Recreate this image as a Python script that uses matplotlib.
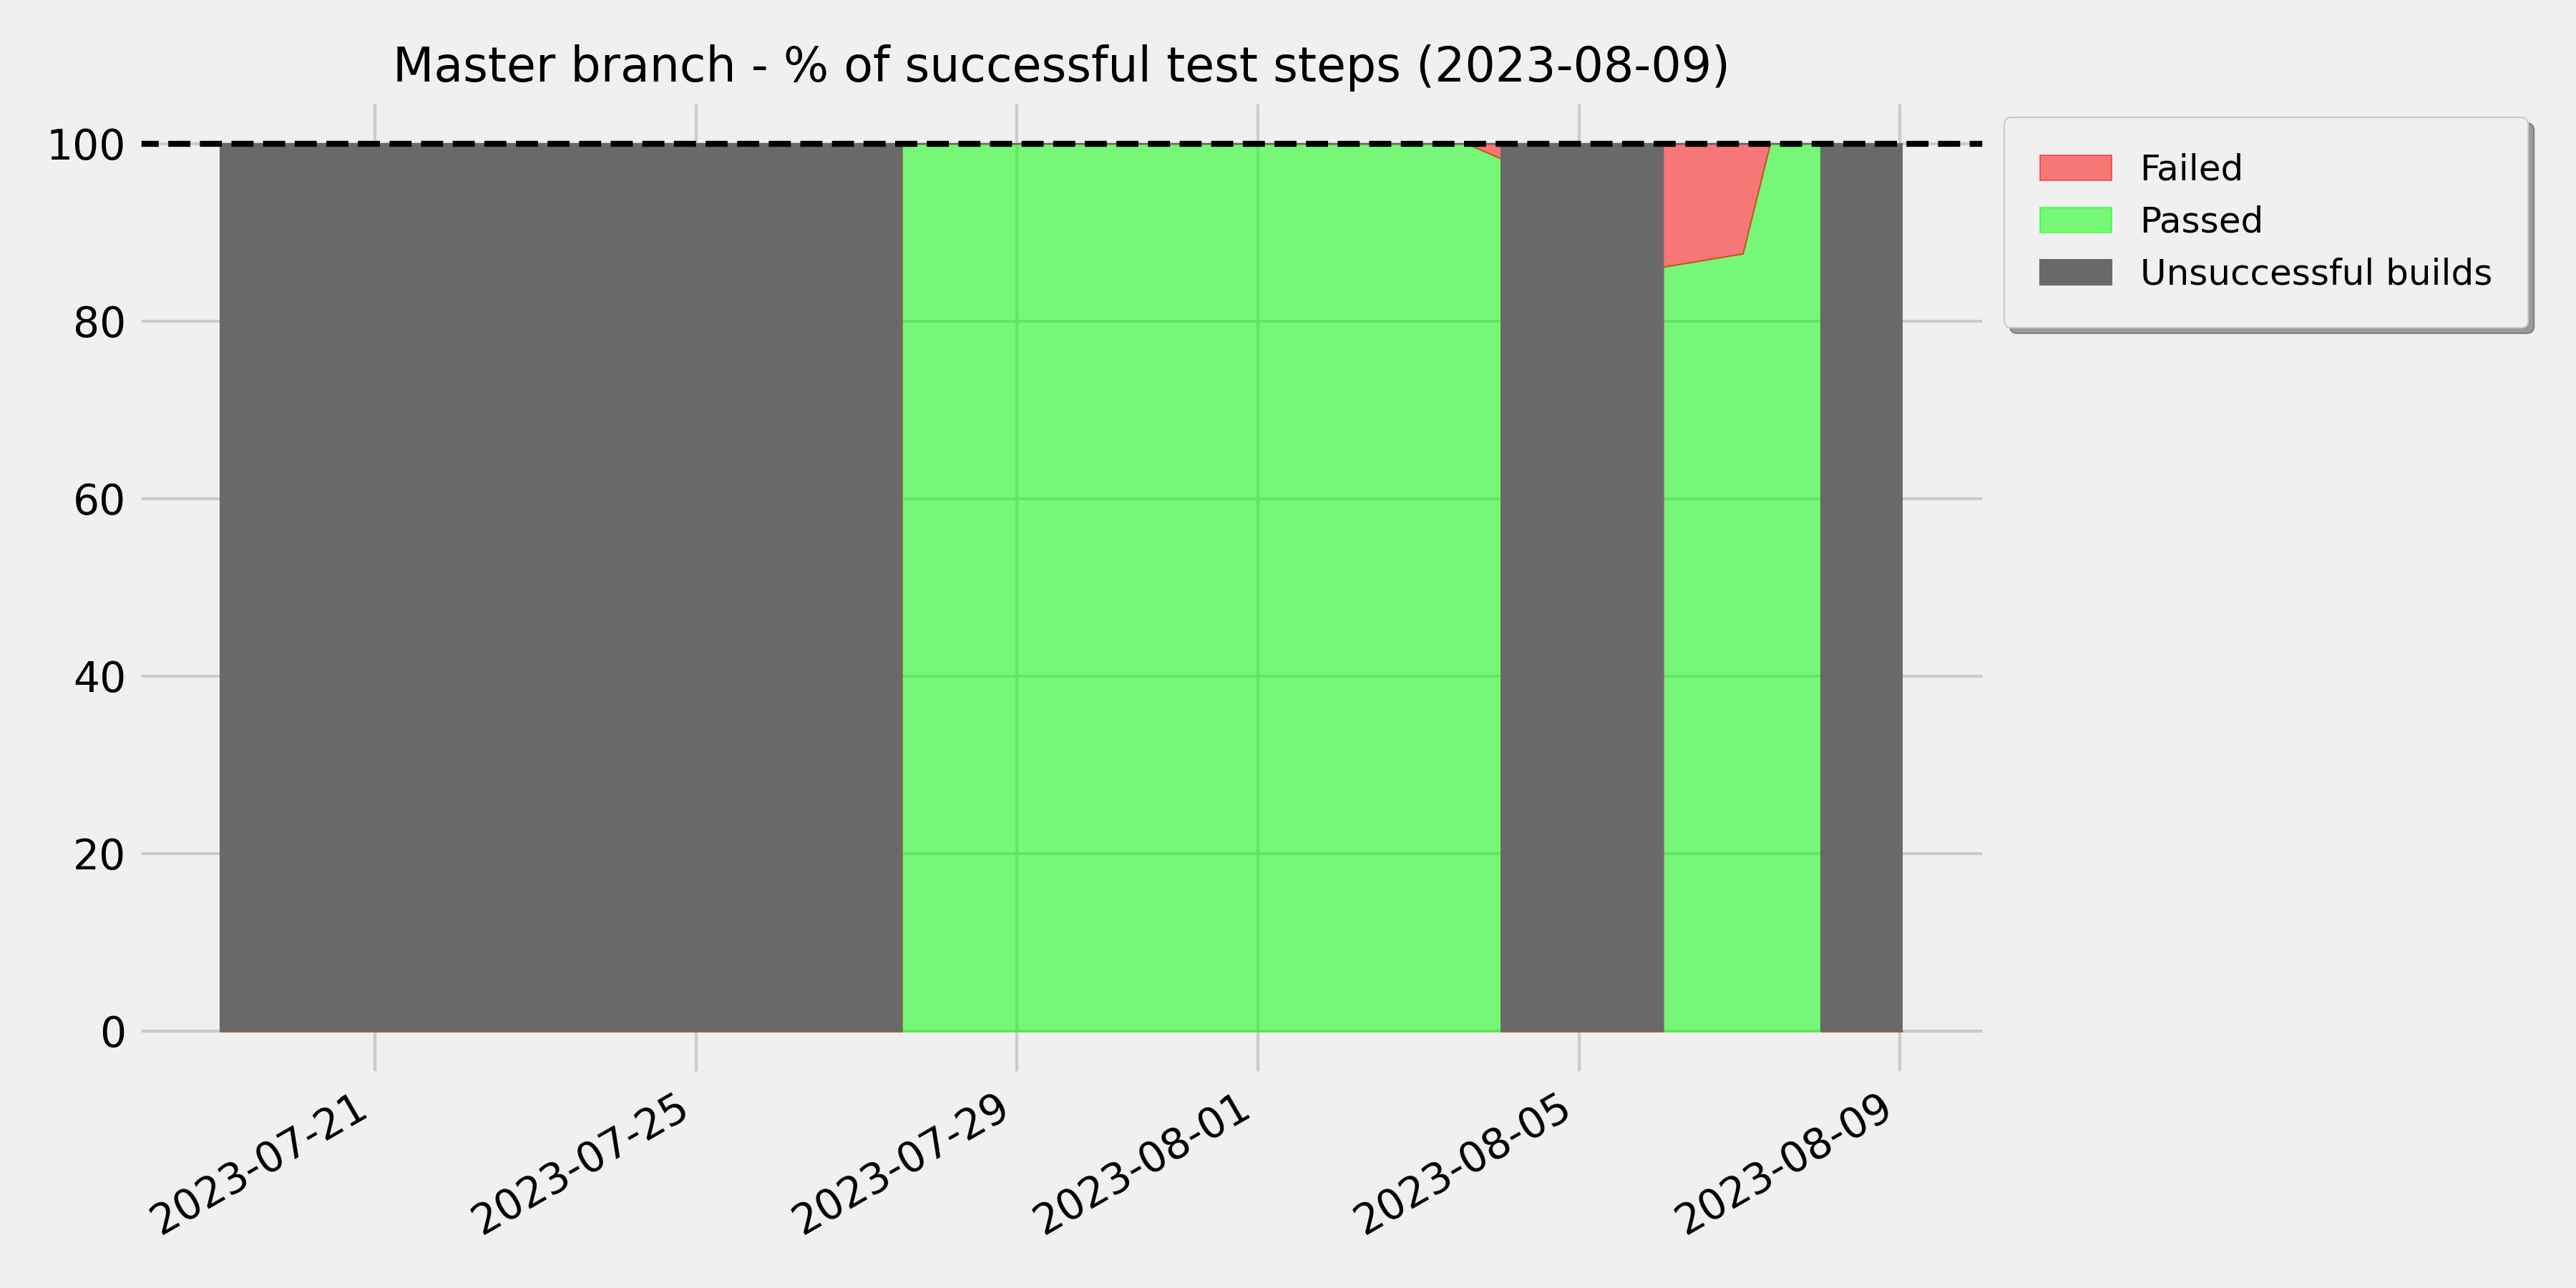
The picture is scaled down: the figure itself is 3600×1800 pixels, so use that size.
import matplotlib
matplotlib.use("Agg")
import matplotlib.pyplot as plt
import matplotlib.dates as mdates
import pandas as pd

plt.style.use("fivethirtyeight")

# build timeline (duplicated stamps give the vertical steps between build states)
build_times = [
    "2023-07-19 01:50", "2023-07-27 13:30",
    "2023-07-27 13:30", "2023-08-03 14:20", "2023-08-04 00:45",
    "2023-08-04 00:45", "2023-08-06 01:05",
    "2023-08-06 01:05", "2023-08-07 01:00", "2023-08-07 09:10", "2023-08-08 00:30",
    "2023-08-08 00:30", "2023-08-09 00:36",
]
passed_pct = [0, 0, 100, 100, 98.3, 0, 0, 86.1, 87.6, 100, 100, 0, 0]
failed_pct = [0, 0, 0, 0, 1.7, 0, 0, 13.9, 12.4, 0, 0, 0, 0]
unsuccessful_pct = [100, 100, 0, 0, 0, 100, 100, 0, 0, 0, 0, 100, 100]

labels = ["Passed", "Failed", "Unsuccessful builds"]
colors = [(0, 1, 0, 0.5), (1, 0, 0, 0.5), "dimgray"]

x = pd.to_datetime(build_times)

fig, ax = plt.subplots(figsize=(12, 6))

polys = ax.stackplot(x, passed_pct, failed_pct, unsuccessful_pct,
                     labels=labels, colors=colors)
# same-colour edges, like the old stackplot behaviour
for p, c in zip(polys, colors):
    p.set_edgecolor(c)
    p.set_linewidth(0.5)

ax.axhline(100, color="black", linestyle="--", linewidth=2)

ax.xaxis.set_major_locator(mdates.DayLocator(bymonthday=range(1, 32, 4)))
ax.xaxis.set_major_formatter(mdates.DateFormatter("%Y-%m-%d"))
ax.set_ylim(-5, 105)
fig.autofmt_xdate()
fig.subplots_adjust(left=0.053, right=0.771, bottom=0.165, top=0.923)

ax.set_title("Master branch - % of successful test steps (2023-08-09)", fontsize=16)

handles = [polys[1], polys[0], polys[2]]
ax.legend(handles, ["Failed", "Passed", "Unsuccessful builds"],
          loc="upper left", bbox_to_anchor=(1, 1), fontsize=12, shadow=True,
          borderpad=1.0, labelspacing=0.5)

fig.savefig("out.png", dpi=300)
